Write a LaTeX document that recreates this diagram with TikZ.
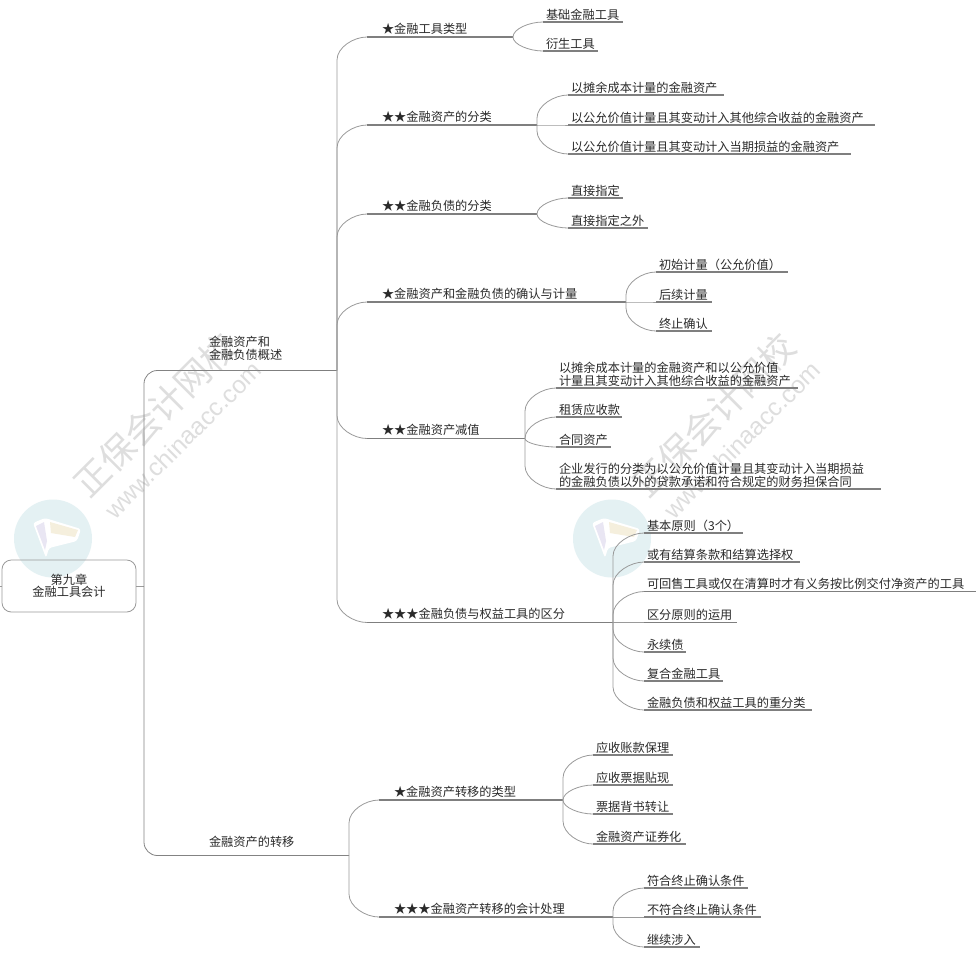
\documentclass[tikz,border=0pt]{standalone}
\usepackage{fontspec}
\usetikzlibrary{calc}
\setmainfont{Noto Sans CJK SC}
\setsansfont{Liberation Sans}
\definecolor{wm}{HTML}{DEDEDE}
\definecolor{conn}{HTML}{9A9A9A}
\definecolor{ul}{HTML}{7F7F7F}
\definecolor{ink}{HTML}{2A2A2A}
\definecolor{logobg}{HTML}{E4F1F3}
\definecolor{logoa}{HTML}{E9E6F3}
\definecolor{logob}{HTML}{F5EFDD}
\newcommand{\pxfont}{\fontsize{9.15pt}{9.4pt}\selectfont}
% \tnode[raise]{name}{x0}{x1}{y of line}{text x}{text}
\newcommand{\tnode}[7][1.5]{%
  \pgfmathsetlengthmacro{\tnt}{(#4-#6)*0.75pt+12pt}%
  \coordinate (#2) at (#3,#5);\coordinate (#2e) at (#4,#5);%
  \node[tx,text width=\tnt] (#2t) at (#6,#5-#1) {#7};%
  \draw[ulstyle] (#2) -- (#2e);}
\newcommand{\cnx}[2]{%
  \draw[connstyle] let \p1=(#1),\p2=(#2),
    \n1={min(abs(\y2-\y1),17.25pt)},\n2={(\y2>\y1)*2-1} in
    (\x1,\y1) -- (\x1,\y2-\n2*\n1)
    .. controls (\x1,\y2-0.45*\n2*\n1) and (\x2-10.1pt,\y2) .. (\x2,\y2);}
\tikzset{
  tx/.style={anchor=south west,align=left,font=\pxfont,text=ink,inner sep=0pt,outer sep=0pt},
  ulstyle/.style={draw=ul,line width=0.85pt},
  connstyle/.style={draw=conn,line width=0.6pt},
  spine/.style={draw=conn!85!black,line width=0.6pt,rounded corners=10pt},
  rootbox/.style={draw=conn,line width=0.6pt,rounded corners=7pt,minimum width=100.5pt,minimum height=39pt,inner sep=0pt,align=center,font=\pxfont,text=ink},
  wmcn/.style={text=wm,font=\fontsize{26.5pt}{28pt}\selectfont,rotate=45,inner sep=0pt},
  wmen/.style={text=wm,font=\sffamily\fontsize{18.5pt}{21pt}\selectfont,rotate=45,inner sep=0pt}
}
\begin{document}
\begin{tikzpicture}[x=0.75pt,y=-0.75pt]
\useasboundingbox (0,0) rectangle (980,961);
\fill[white] (0,0) rectangle (980,961);
% watermark
\foreach \dx in {0,559}{
  \fill[logobg] (53+\dx,538.5) circle[radius=39];
  \fill[white,rounded corners=2pt] (33+\dx,523) -- (45+\dx,518) -- (81+\dx,529) -- (77+\dx,541) -- (49+\dx,548) -- (46+\dx,558) -- cycle;
  \fill[logoa] (36+\dx,526) -- (44+\dx,522) -- (47+\dx,541) -- (45+\dx,550) -- cycle;
  \fill[logob] (50+\dx,522) -- (78+\dx,530) -- (75+\dx,537) -- (51+\dx,533) -- cycle;
}
\node[wmcn] (wm1) at (155,415) {正保会计网校};
\node[wmen] (wm2) at (183,440) {www.chinaacc.com};
\node[wmcn] (wm3) at (714,415) {正保会计网校};
\node[wmen] (wm4) at (742,440) {www.chinaacc.com};
% root
\node[rootbox] (root) at (69,586) {第九章\\金融工具会计};
\coordinate (rootl) at (0,586);
\coordinate (rootj) at (144,586);
\draw[connstyle] (rootl) -- (root.west);
\draw[connstyle] (root.east) -- (rootj);
% level 1
\tnode[10]{A}{258}{337}{370.5}{209}{金融资产和\\金融负债概述}
\tnode[8]{B}{349}{349}{855.5}{209}{金融资产的转移}
\draw[spine] (rootj) |- (A);
\draw[spine] (rootj) |- (B);
% A children
\tnode[2.5]{A1}{367}{513}{37}{382}{★金融工具类型}
\tnode[2.5]{A2}{367}{537}{125}{382}{★★金融资产的分类}
\tnode[2.5]{A3}{367}{537}{214}{382}{★★金融负债的分类}
\tnode[2.5]{A4}{367}{626}{302}{382}{★金融资产和金融负债的确认与计量}
\tnode[2.5]{A5}{367}{525}{438.5}{382}{★★金融资产减值}
\tnode[2.5]{A6}{367}{613}{622.5}{382}{★★★金融负债与权益工具的区分}
\foreach \c in {A1,A2,A3,A4,A5,A6}{\cnx{Ae}{\c}}
% A1
\tnode{a11}{543}{623}{22}{546}{基础金融工具}
\tnode{a12}{543}{598}{51}{546}{衍生工具}
\foreach \c in {a11,a12}{\cnx{A1e}{\c}}
% A2
\tnode{a21}{568}{724}{95}{571}{以摊余成本计量的金融资产}
\tnode{a22}{568}{875}{125}{571}{以公允价值计量且其变动计入其他综合收益的金融资产}
\tnode{a23}{568}{851}{154}{571}{以公允价值计量且其变动计入当期损益的金融资产}
\foreach \c in {a21,a22,a23}{\cnx{A2e}{\c}}
% A3
\tnode{a31}{568}{623}{198}{571}{直接指定}
\tnode{a32}{568}{648}{228}{571}{直接指定之外}
\foreach \c in {a31,a32}{\cnx{A3e}{\c}}
% A4
\tnode{a41}{656}{788}{272}{659}{初始计量（公允价值）}
\tnode{a42}{656}{712}{302}{659}{后续计量}
\tnode{a43}{656}{712}{331}{659}{终止确认}
\foreach \c in {a41,a42,a43}{\cnx{A4e}{\c}}
% A5
\tnode{a51}{556}{798}{388}{559}{以摊余成本计量的金融资产和以公允价值\\计量且其变动计入其他综合收益的金融资产}
\tnode{a52}{556}{622}{417}{559}{租赁应收款}
\tnode{a53}{556}{611}{447}{559}{合同资产}
\tnode{a54}{556}{881}{489}{559}{企业发行的分类为以公允价值计量且其变动计入当期损益\\的金融负债以外的贷款承诺和符合规定的财务担保合同}
\foreach \c in {a51,a52,a53,a54}{\cnx{A5e}{\c}}
% A6
\tnode{a61}{644}{743}{533}{647}{基本原则（3个）}
\tnode{a62}{644}{800}{562}{647}{或有结算条款和结算选择权}
\tnode{a63}{644}{976}{591.5}{647}{可回售工具或仅在清算时才有义务按比例交付净资产的工具}
\tnode{a64}{644}{737}{622.5}{647}{区分原则的运用}
\tnode{a65}{644}{686}{652}{647}{永续债}
\tnode{a66}{644}{723}{681}{647}{复合金融工具}
\tnode{a67}{644}{812}{710}{647}{金融负债和权益工具的重分类}
\foreach \c in {a61,a62,a63,a64,a65,a66,a67}{\cnx{A6e}{\c}}
% B children
\tnode[2.5]{B1}{379}{563}{800}{394}{★金融资产转移的类型}
\tnode[2.5]{B2}{379}{613}{917}{394}{★★★金融资产转移的会计处理}
\foreach \c in {B1,B2}{\cnx{Be}{\c}}
\tnode{b11}{593}{673}{755}{596}{应收账款保理}
\tnode{b12}{593}{673}{785}{596}{应收票据贴现}
\tnode{b13}{593}{673}{814}{596}{票据背书转让}
\tnode{b14}{593}{686}{844}{596}{金融资产证券化}
\foreach \c in {b11,b12,b13,b14}{\cnx{B1e}{\c}}
\tnode{b21}{644}{748}{888}{647}{符合终止确认条件}
\tnode{b22}{644}{761}{917}{647}{不符合终止确认条件}
\tnode{b23}{644}{700}{947}{647}{继续涉入}
\foreach \c in {b21,b22,b23}{\cnx{B2e}{\c}}
\end{tikzpicture}
\end{document}
